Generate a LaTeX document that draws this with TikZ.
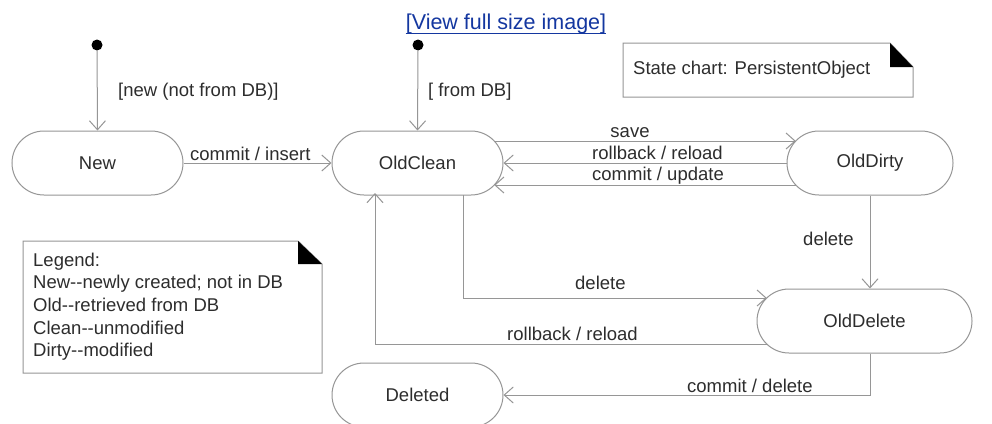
\documentclass[tikz,border=0pt]{standalone}
\usepackage{fontspec}
\setmainfont{Liberation Sans}
\usetikzlibrary{arrows.meta,calc,shapes.misc}
\definecolor{linec}{RGB}{150,150,150}
\definecolor{txtc}{RGB}{45,45,45}
\definecolor{linkc}{RGB}{20,55,160}
\begin{document}
\begin{tikzpicture}[x=1pt,y=-1pt,
  every node/.style={font=\fontsize{18.5}{22.5}\selectfont, text=txtc},
  statebox/.style={draw=linec, line width=1pt, rounded rectangle, minimum height=64pt, inner sep=0pt},
  initdot/.style={circle, fill=black, inner sep=0pt, minimum size=11pt},
  trans/.style={draw=linec, line width=1pt, -{Straight Barb[length=9pt,width=16pt,line width=1pt]}},
  lbl/.style={inner sep=0pt, anchor=base west},
  notebox/.style={draw=linec, line width=1pt}
]
\useasboundingbox (0,0) rectangle (992,423);
\fill[white] (0,0) rectangle (992,423);

% header link
\node[lbl, anchor=base, text=linkc, font=\fontsize{21.5}{24}\selectfont] (link) at (506,29) {[View full size image]};
\draw[linkc, line width=1pt] (link.west |- 0,33) -- (link.east |- 0,33);

% states
\node[statebox, minimum width=171pt] (New) at (97.5,163) {New};
\node[statebox, minimum width=171pt] (OldClean) at (417.5,163) {OldClean};
\node[statebox, minimum width=166pt] (OldDirty) at (870,163) {OldDirty};
\node[statebox, minimum width=215pt] (OldDelete) at (864.5,321) {OldDelete};
\node[statebox, minimum width=171pt] (Deleted) at (417.5,395) {Deleted};

% initial states
\node[initdot] (init1) at (97,45) {};
\node[initdot] (init2) at (418,45) {};

% connector end points
\coordinate (ocSaveOut) at ($(OldClean.center)+(76.7,-22)$);
\coordinate (ocUpdIn) at ($(OldClean.center)+(76.7,22)$);
\coordinate (odSaveIn) at ($(OldDirty.center)+(-74.2,-22)$);
\coordinate (odUpdOut) at ($(OldDirty.center)+(-74.2,22)$);
\coordinate (ocDelOut) at ($(OldClean.center)+(45.5,32)$);
\coordinate (odlDelIn) at ($(OldDelete.center)+(-97.7,-23)$);
\coordinate (odlRbOut) at ($(OldDelete.center)+(-97.7,23)$);
\coordinate (ocRbIn) at ($(OldClean.center)+(-42.5,30)$);
\coordinate (odlComOut) at (OldDirty.south |- OldDelete.south);

% transitions
\draw[trans] (init1) -- (New.north);
\draw[trans] (init2) -- (OldClean.north);
\draw[trans] (New.east) -- (OldClean.west);
\draw[trans] (ocSaveOut) -- (odSaveIn);
\draw[trans] (OldDirty.west) -- (OldClean.east);
\draw[trans] (odUpdOut) -- (ocUpdIn);
\draw[trans] (OldDirty.south) -- (OldDirty.south |- OldDelete.north);
\draw[trans] (ocDelOut) |- (odlDelIn);
\draw[trans] (odlRbOut) -| (ocRbIn);
\draw[trans] (odlComOut) |- (Deleted.east);

% transition labels
\node[lbl] (l1) at (118,96) {[new (not from DB)]};
\node[lbl] (l2) at (428,96) {[ from DB]};
\node[lbl] (l3) at (190,160) {commit / insert};
\node[lbl, anchor=base] (l4) at (630,137) {save};
\node[lbl, anchor=base] (l5) at (657.5,159) {rollback / reload};
\node[lbl, anchor=base] (l6) at (658,180) {commit / update};
\node[lbl] (l7) at (803,245) {delete};
\node[lbl] (l8) at (575,289) {delete};
\node[lbl] (l9) at (507,340) {rollback / reload};
\node[lbl] (l10) at (687,392) {commit / delete};

% note: state chart
\draw[notebox] (623,43) -- (890,43) -- (913,67) -- (913,97) -- (623,97) -- cycle;
\fill[black] (890,43) -- (913,67) -- (890,67) -- cycle;
\node[lbl] (title) at (633,74) {State chart: PersistentObject};

% note: legend
\draw[notebox] (23,241) -- (298,241) -- (322,264) -- (322,373) -- (23,373) -- cycle;
\fill[black] (298,241) -- (322,264) -- (298,264) -- cycle;
\node[lbl] (lg1) at (33,266) {Legend:};
\node[lbl] (lg2) at (33,288.5) {New-{}-newly created; not in DB};
\node[lbl] (lg3) at (33,311) {Old-{}-retrieved from DB};
\node[lbl] (lg4) at (33,334) {Clean-{}-unmodified};
\node[lbl] (lg5) at (33,356.5) {Dirty-{}-modified};
\end{tikzpicture}
\end{document}
